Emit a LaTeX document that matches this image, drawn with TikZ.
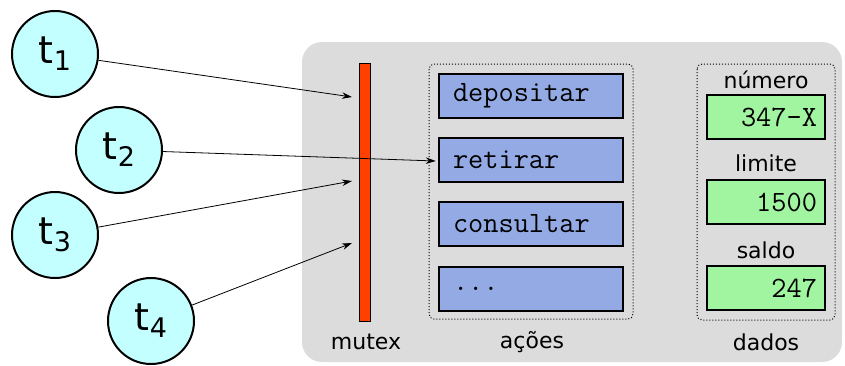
\documentclass[tikz,border=0pt]{standalone}
\usepackage{fontspec}
\setmainfont{DejaVu Sans}
\usepackage{tikz}
\usetikzlibrary{arrows.meta}
\definecolor{fundo}{HTML}{DCDCDC}
\definecolor{ciano}{HTML}{C4FFFF}
\definecolor{laranja}{HTML}{FF4000}
\definecolor{azul}{HTML}{94AAE4}
\definecolor{verde}{HTML}{A2F5A0}
\newcommand{\tsub}[1]{t\raisebox{-7pt}{\fontsize{27}{27}\selectfont #1}}
\tikzset{
  thr/.style = {circle, draw=black, line width=2pt, fill=ciano,
    minimum size=86pt, inner sep=0pt, font=\fontsize{38}{38}\selectfont},% thread
  act/.style = {rectangle, draw=black, line width=2.5pt, fill=azul,
    minimum width=184pt, minimum height=44pt, text width=156pt,
    inner xsep=14pt, align=left, font=\ttfamily\fontsize{29.5}{29.5}\selectfont},% action box
  dat/.style = {rectangle, draw=black, line width=2.5pt, fill=verde,
    minimum width=118pt, minimum height=44pt, text width=102pt,
    inner xsep=8pt, align=right, font=\ttfamily\fontsize{29.5}{29.5}\selectfont},% data box
  lbl/.style = {font=\fontsize{22}{22}\selectfont},
  grp/.style = {draw=black, dotted, line width=1pt, rounded corners=5pt}
}
\begin{document}
\begin{tikzpicture}[x=1pt,y=-1pt,>={Stealth[length=10pt,width=6.5pt]}]
\useasboundingbox (0,0) rectangle (845,365);
% object
\fill[fundo, rounded corners=20pt] (302,42) rectangle (842,362);
\node [rectangle, draw=black, line width=0.8pt, fill=laranja, minimum width=11pt,
  minimum height=258pt, inner sep=0pt] (mutex) at (365,192) {};
\node [lbl] (lmutex) at (366,342) {mutex};
% actions
\draw[grp] (429,64) rectangle (633,319);
\node [act] (dep) at (531,96) {depositar};
\node [act] (ret) at (531,160) {retirar};
\node [act] (con) at (531,224) {consultar};
\node [act] (etc) at (531,289) {...};
\node [lbl] (lacoes) at (532,342) {ações};
% data
\draw[grp] (697,64) rectangle (835,320);
\node [lbl] (lnum) at (766,80) {número};
\node [dat] (num) at (766,117) {347-X};
\node [lbl] (llim) at (766,163) {limite};
\node [dat] (lim) at (766,202) {1500};
\node [lbl] (lsal) at (766,250) {saldo};
\node [dat] (sal) at (766,288) {247};
\node [lbl] (ldados) at (766,342) {dados};
% threads
\node [thr] (t1) at (55,54) {\tsub{1}};
\node [thr] (t2) at (119,150) {\tsub{2}};
\node [thr] (t3) at (55,235) {\tsub{3}};
\node [thr] (t4) at (151,321) {\tsub{4}};
\coordinate (m1) at (352,97);
\coordinate (m3) at (352,181);
\coordinate (m4) at (352,243);
\draw[->, line width=0.8pt] (t1) -- (m1);
\draw[->, line width=0.8pt] (t2) -- ([xshift=-2pt,yshift=-1pt]ret.west);
\draw[->, line width=0.8pt] (t3) -- (m3);
\draw[->, line width=0.8pt] (t4) -- (m4);
\end{tikzpicture}
\end{document}
